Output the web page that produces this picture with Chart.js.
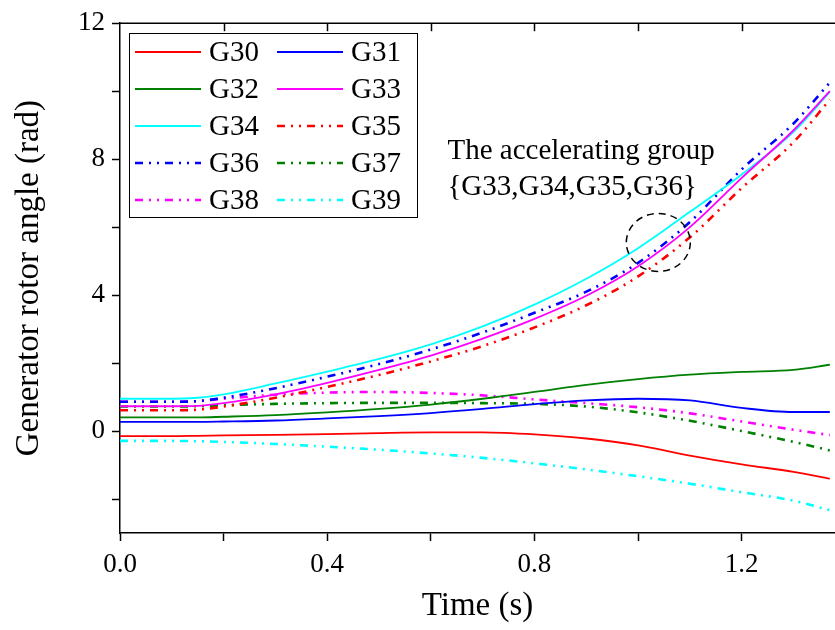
<!DOCTYPE html>
<html>
<head>
<meta charset="utf-8">
<script src="https://cdn.jsdelivr.net/npm/chart.js@4"></script>
<style>
  html, body { margin: 0; padding: 0; background: #fff; }
  #wrap { width: 835px; height: 630px; }
</style>
</head>
<body>
<div id="wrap"><canvas id="my-chart" width="835" height="630"></canvas></div>
<script>
'use strict';

// ******* DATA *********
let timeS = [0, 0.1, 0.15, 0.2, 0.3, 0.4, 0.5, 0.6, 0.7, 0.8, 0.9, 1.0, 1.1, 1.2, 1.3, 1.37];

let g30 = [-0.15, -0.15, -0.14, -0.13, -0.11, -0.09, -0.06, -0.04, -0.04, -0.1, -0.22, -0.42, -0.72, -0.98, -1.2, -1.4];
let g31 = [0.27, 0.27, 0.27, 0.28, 0.31, 0.37, 0.44, 0.53, 0.65, 0.79, 0.9, 0.95, 0.9, 0.68, 0.56, 0.56];
let g32 = [0.4, 0.4, 0.4, 0.42, 0.47, 0.55, 0.65, 0.78, 0.95, 1.15, 1.36, 1.53, 1.66, 1.74, 1.8, 1.95];
let g33 = [0.73, 0.73, 0.74, 0.82, 1.08, 1.42, 1.8, 2.22, 2.72, 3.3, 3.98, 4.85, 6.0, 7.45, 8.85, 10.0];
let g34 = [0.95, 0.95, 0.98, 1.08, 1.4, 1.75, 2.12, 2.55, 3.08, 3.72, 4.48, 5.38, 6.45, 7.55, 8.8, 9.98];
let g35 = [0.61, 0.61, 0.63, 0.72, 0.98, 1.3, 1.65, 2.05, 2.5, 3.05, 3.7, 4.55, 5.7, 7.15, 8.5, 9.75];
let g36 = [0.86, 0.86, 0.88, 0.98, 1.26, 1.6, 1.97, 2.4, 2.9, 3.48, 4.1, 4.95, 6.15, 7.7, 9.05, 10.25];
let g37 = [0.72, 0.72, 0.73, 0.76, 0.8, 0.82, 0.83, 0.83, 0.82, 0.8, 0.72, 0.55, 0.3, 0.0, -0.32, -0.57];
let g38 = [0.86, 0.86, 0.88, 0.95, 1.07, 1.13, 1.15, 1.12, 1.05, 0.93, 0.82, 0.7, 0.52, 0.28, 0.04, -0.12];
let g39 = [-0.29, -0.29, -0.3, -0.32, -0.38, -0.46, -0.55, -0.66, -0.79, -0.95, -1.13, -1.33, -1.55, -1.8, -2.05, -2.33];

let seriesNames = ['G30', 'G31', 'G32', 'G33', 'G34', 'G35', 'G36', 'G37', 'G38', 'G39'];
let seriesValues = [g30, g31, g32, g33, g34, g35, g36, g37, g38, g39];
let seriesColors = ['#ff0000', '#0000ff', '#008000', '#ff00ff', '#00ffff', '#ff0000', '#0000ff', '#008000', '#ff00ff', '#00ffff'];
let seriesDashed = [false, false, false, false, false, true, true, true, true, true];

let xTicksMajor = [0, 0.4, 0.8, 1.2];
let yTicksMajor = [0, 4, 8, 12];

let noteLines = ['The accelerating group', '{G33,G34,G35,G36}'];

// ******* STYLE *********
const SERIF = '"Liberation Serif", "Times New Roman", serif';
const DASH = [8, 6, 2, 6, 2, 6];

// ******* BUILD DATASETS *********
function buildDatasets() {
  let sets = [];
  for (let i = 0; i < seriesNames.length; i++) {
    let pts = [];
    for (let j = 0; j < timeS.length; j++) {
      pts.push({ x: timeS[j], y: seriesValues[i][j] });
    }
    sets.push({
      label: seriesNames[i],
      data: pts,
      borderColor: seriesColors[i],
      backgroundColor: seriesColors[i],
      borderWidth: seriesDashed[i] ? 2.6 : 1.8,
      borderDash: seriesDashed[i] ? DASH : [],
      pointRadius: 0,
      fill: false,
      cubicInterpolationMode: 'monotone'
    });
  }
  return sets;
}

// ******* FRAME, LEGEND AND NOTE *********
let extrasPlugin = {
  id: 'extras',
  afterDraw(chart) {
    let c = chart.ctx;
    let xs = chart.scales.x;
    let ys = chart.scales.y;
    let area = chart.chartArea;

    // top border with inward ticks
    c.save();
    c.strokeStyle = '#000';
    c.lineWidth = 1.5;
    c.beginPath();
    c.moveTo(area.left, area.top);
    c.lineTo(area.right, area.top);
    c.stroke();
    for (let v = 0.2; v < 1.38; v += 0.2) {
      let px = Math.round(xs.getPixelForValue(v)) + 0.5;
      c.beginPath();
      c.moveTo(px, area.top);
      c.lineTo(px, area.top + 8);
      c.stroke();
    }
    c.restore();

    // legend box
    let datasets = chart.data.datasets;
    let boxL = 129, boxT = 33, boxR = 417, boxB = 217;
    c.save();
    c.fillStyle = '#fff';
    c.fillRect(boxL, boxT, boxR - boxL, boxB - boxT);
    c.strokeStyle = '#000';
    c.lineWidth = 1;
    c.strokeRect(boxL + 0.5, boxT + 0.5, boxR - boxL, boxB - boxT);
    c.font = '29px ' + SERIF;
    c.textBaseline = 'middle';
    c.fillStyle = '#000';
    for (let i = 0; i < datasets.length; i++) {
      let col = i % 2;
      let row = Math.floor(i / 2);
      let y = 52 + row * 37;
      let x0 = col === 0 ? 135 : 277;
      c.save();
      c.strokeStyle = datasets[i].borderColor;
      c.lineWidth = datasets[i].borderWidth;
      c.setLineDash(datasets[i].borderDash);
      c.beginPath();
      c.moveTo(x0, y);
      c.lineTo(x0 + 66, y);
      c.stroke();
      c.restore();
      c.fillText(datasets[i].label, x0 + 74, y + 1);
    }
    c.restore();

    // annotation text and dashed circle
    c.save();
    c.font = '29px ' + SERIF;
    c.fillStyle = '#000';
    c.textBaseline = 'alphabetic';
    let tx = xs.getPixelForValue(0.632);
    c.fillText(noteLines[0], tx, ys.getPixelForValue(8.0));
    c.fillText(noteLines[1], tx, ys.getPixelForValue(6.95));
    let cx = xs.getPixelForValue(1.039);
    let cy = ys.getPixelForValue(5.55);
    c.strokeStyle = '#000';
    c.lineWidth = 1.5;
    c.setLineDash([7, 5]);
    c.beginPath();
    c.ellipse(cx, cy, 32, 29, 0, 0, Math.PI * 2);
    c.stroke();
    c.restore();
  }
};

// ******* CHART *********
let ctx = document.getElementById('my-chart');

let chartObj = {
  type: 'line',
  data: { datasets: buildDatasets() },
  options: {
    responsive: false,
    animation: false,
    layout: { padding: { top: 20, right: 0, left: 0, bottom: 0 } },
    plugins: {
      legend: { display: false },
      tooltip: { enabled: false }
    },
    scales: {
      x: {
        type: 'linear',
        min: 0,
        max: 1.38,
        afterFit(scale) { scale.height = 97; },
        border: { display: true, color: '#000', width: 1.5 },
        grid: { drawOnChartArea: false, drawTicks: true, tickLength: 8, tickColor: '#000', tickWidth: 1.5 },
        ticks: {
          stepSize: 0.2,
          includeBounds: false,
          autoSkip: false,
          maxRotation: 0,
          padding: 8,
          color: '#000',
          font: { family: SERIF, size: 27 },
          callback(value) {
            for (let t of xTicksMajor) {
              if (Math.abs(value - t) < 1e-6) return t.toFixed(1);
            }
            return '';
          }
        },
        title: {
          display: true,
          text: 'Time (s)',
          color: '#000',
          font: { family: SERIF, size: 33 },
          padding: { top: 14, bottom: 4 }
        }
      },
      y: {
        min: -3,
        max: 12,
        afterFit(scale) { scale.width = 120; },
        border: { display: true, color: '#000', width: 1.5 },
        grid: { drawOnChartArea: false, drawTicks: true, tickLength: 8, tickColor: '#000', tickWidth: 1.5 },
        ticks: {
          stepSize: 2,
          includeBounds: false,
          autoSkip: false,
          padding: 7,
          color: '#000',
          font: { family: SERIF, size: 27 },
          callback(value) {
            return yTicksMajor.includes(value) ? String(value) : '';
          }
        },
        title: {
          display: true,
          text: 'Generator rotor angle (rad)',
          color: '#000',
          font: { family: SERIF, size: 33 },
          padding: { top: 10, bottom: 0 }
        }
      }
    }
  },
  plugins: [extrasPlugin]
};

new Chart(ctx, chartObj); //eslint-disable-line
</script>
</body>
</html>
